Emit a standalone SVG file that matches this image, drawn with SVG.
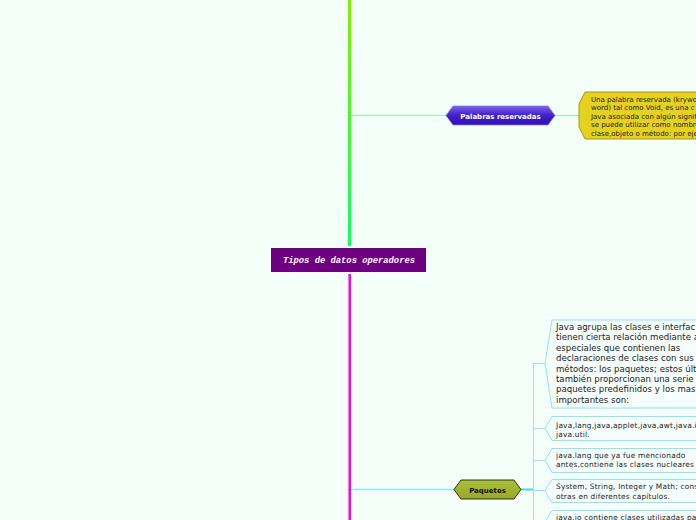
<svg xmlns="http://www.w3.org/2000/svg" width="696" height="520" viewBox="0 0 696 520">
<defs>
<linearGradient id="gTop" x1="0" y1="0" x2="0" y2="1">
<stop offset="0" stop-color="#80f000"/>
<stop offset="1" stop-color="#10ff60"/>
</linearGradient>
<linearGradient id="gPal" x1="0" y1="0" x2="0" y2="1">
<stop offset="0" stop-color="#7a60f0"/>
<stop offset="0.5" stop-color="#4020c8"/>
<stop offset="1" stop-color="#3010b0"/>
</linearGradient>
<linearGradient id="gPaq" x1="0" y1="0" x2="0" y2="1">
<stop offset="0" stop-color="#a8c038"/>
<stop offset="1" stop-color="#98a828"/>
</linearGradient>
<style>
.box{fill:#f6fffd;stroke:#8ae8f4;stroke-width:1}
.t{font-family:"DejaVu Sans",Verdana,sans-serif;fill:#222}
.s{font-size:7px}
.b{font-size:7.4px;letter-spacing:0.2px}
.c{fill:none;stroke:#8ae8f4;stroke-width:1}
</style>
</defs>
<rect width="696" height="520" fill="#f5fffa"/>
<g id="connectors">
<rect x="348" y="0" width="3" height="246" fill="url(#gTop)"/>
<rect x="348" y="274" width="3" height="246" fill="#e010e0"/>
<rect x="348" y="274" width="1" height="246" fill="#f070f0"/>
<line x1="351" y1="115.5" x2="447" y2="115.5" stroke="#90f8b0" stroke-width="1"/>
<line x1="555" y1="115.5" x2="580" y2="115.5" stroke="#90f8b0" stroke-width="1"/>
<line x1="351" y1="489.5" x2="455" y2="489.5" stroke="#90eaf4" stroke-width="1.5"/>
<line x1="521" y1="489.5" x2="533" y2="489.5" stroke="#40d8f0" stroke-width="2"/>
<path class="c" d="M533.5 363.5V520M533.5 363.5H545M533.5 428.5H545M533.5 460.5H545M533.5 490.5H545"/>
</g>
<g id="central">
<rect x="271" y="248" width="155" height="24" fill="#6c0080"/>
<text x="349" y="263" text-anchor="middle" font-family="Liberation Mono,monospace" font-style="italic" font-weight="bold" font-size="8.8" fill="#ffffff">Tipos de datos operadores</text>
</g>
<g id="palabras">
<polygon points="446,115.5 453,106 548,106 555,115.5 548,125 453,125" fill="url(#gPal)" stroke="#8a78f0" stroke-width="0.8"/>
<text x="500.5" y="118.5" text-anchor="middle" class="t" font-weight="bold" font-size="7" style="fill:#fff">Palabras reservadas</text>
</g>
<g id="palabras-desc">
<polygon points="585,92 700,92 700,139 585,139 579,127 579,104" fill="#e4d21e" stroke="#a89810" stroke-width="1"/>
<text class="t s" x="591" y="101.5">Una palabra reservada (krywo<tspan x="591" dy="8.5">word) tal como Void, es una c</tspan><tspan x="591" dy="8.5">Java asociada con algún signif</tspan><tspan x="591" dy="8.5">se puede utilizar como nombre</tspan><tspan x="591" dy="8.5">clase,objeto o método: por eje</tspan></text>
</g>
<g id="paquetes">
<polygon points="454,489.5 461,480 514,480 521,489.5 514,499 461,499" fill="url(#gPaq)" stroke="#303018" stroke-width="1"/>
<text x="487.5" y="492.5" text-anchor="middle" class="t" font-weight="bold" font-size="7" style="fill:#111">Paquetes</text>
</g>
<g id="paq1">
<polygon class="box" points="552,320 700,320 700,408 552,408 545,363.5"/>
<text class="t" font-size="8.6" x="556" y="330">Java agrupa las clases e interfac<tspan x="556" dy="10.4">tienen cierta relación mediante a</tspan><tspan x="556" dy="10.4">especiales que contienen las</tspan><tspan x="556" dy="10.4">declaraciones de clases con sus</tspan><tspan x="556" dy="10.4">métodos: los paquetes; estos últ</tspan><tspan x="556" dy="10.4">también proporcionan una serie</tspan><tspan x="556" dy="10.4">paquetes predefinidos y los mas</tspan><tspan x="556" dy="10.4">importantes son:</tspan></text>
</g>
<g id="paq2">
<polygon class="box" points="552,416.5 700,416.5 700,440.5 552,440.5 545,428.5"/>
<text class="t b" x="556" y="427.5">Java,lang,java,applet,java,awt,java.io<tspan x="556" dy="9">java.util.</tspan></text>
</g>
<g id="paq3">
<polygon class="box" points="552,448.5 700,448.5 700,472.5 552,472.5 545,460.5"/>
<text class="t b" x="556" y="458">java.lang que ya fue mencionado<tspan x="556" dy="8.5">antes,contiene las clases nucleares de</tspan></text>
</g>
<g id="paq4">
<polygon class="box" points="552,479.5 700,479.5 700,502.5 552,502.5 545,490.5"/>
<text class="t b" x="556" y="489">System, String, Integer y Math; conside<tspan x="556" dy="9.5">otras en diferentes capítulos.</tspan></text>
</g>
<g id="paq5">
<polygon class="box" points="552,510.5 700,510.5 700,540 552,540 545,522"/>
<text class="t b" x="556" y="520">java.io contiene clases utilizadas para</text>
</g>
</svg>
